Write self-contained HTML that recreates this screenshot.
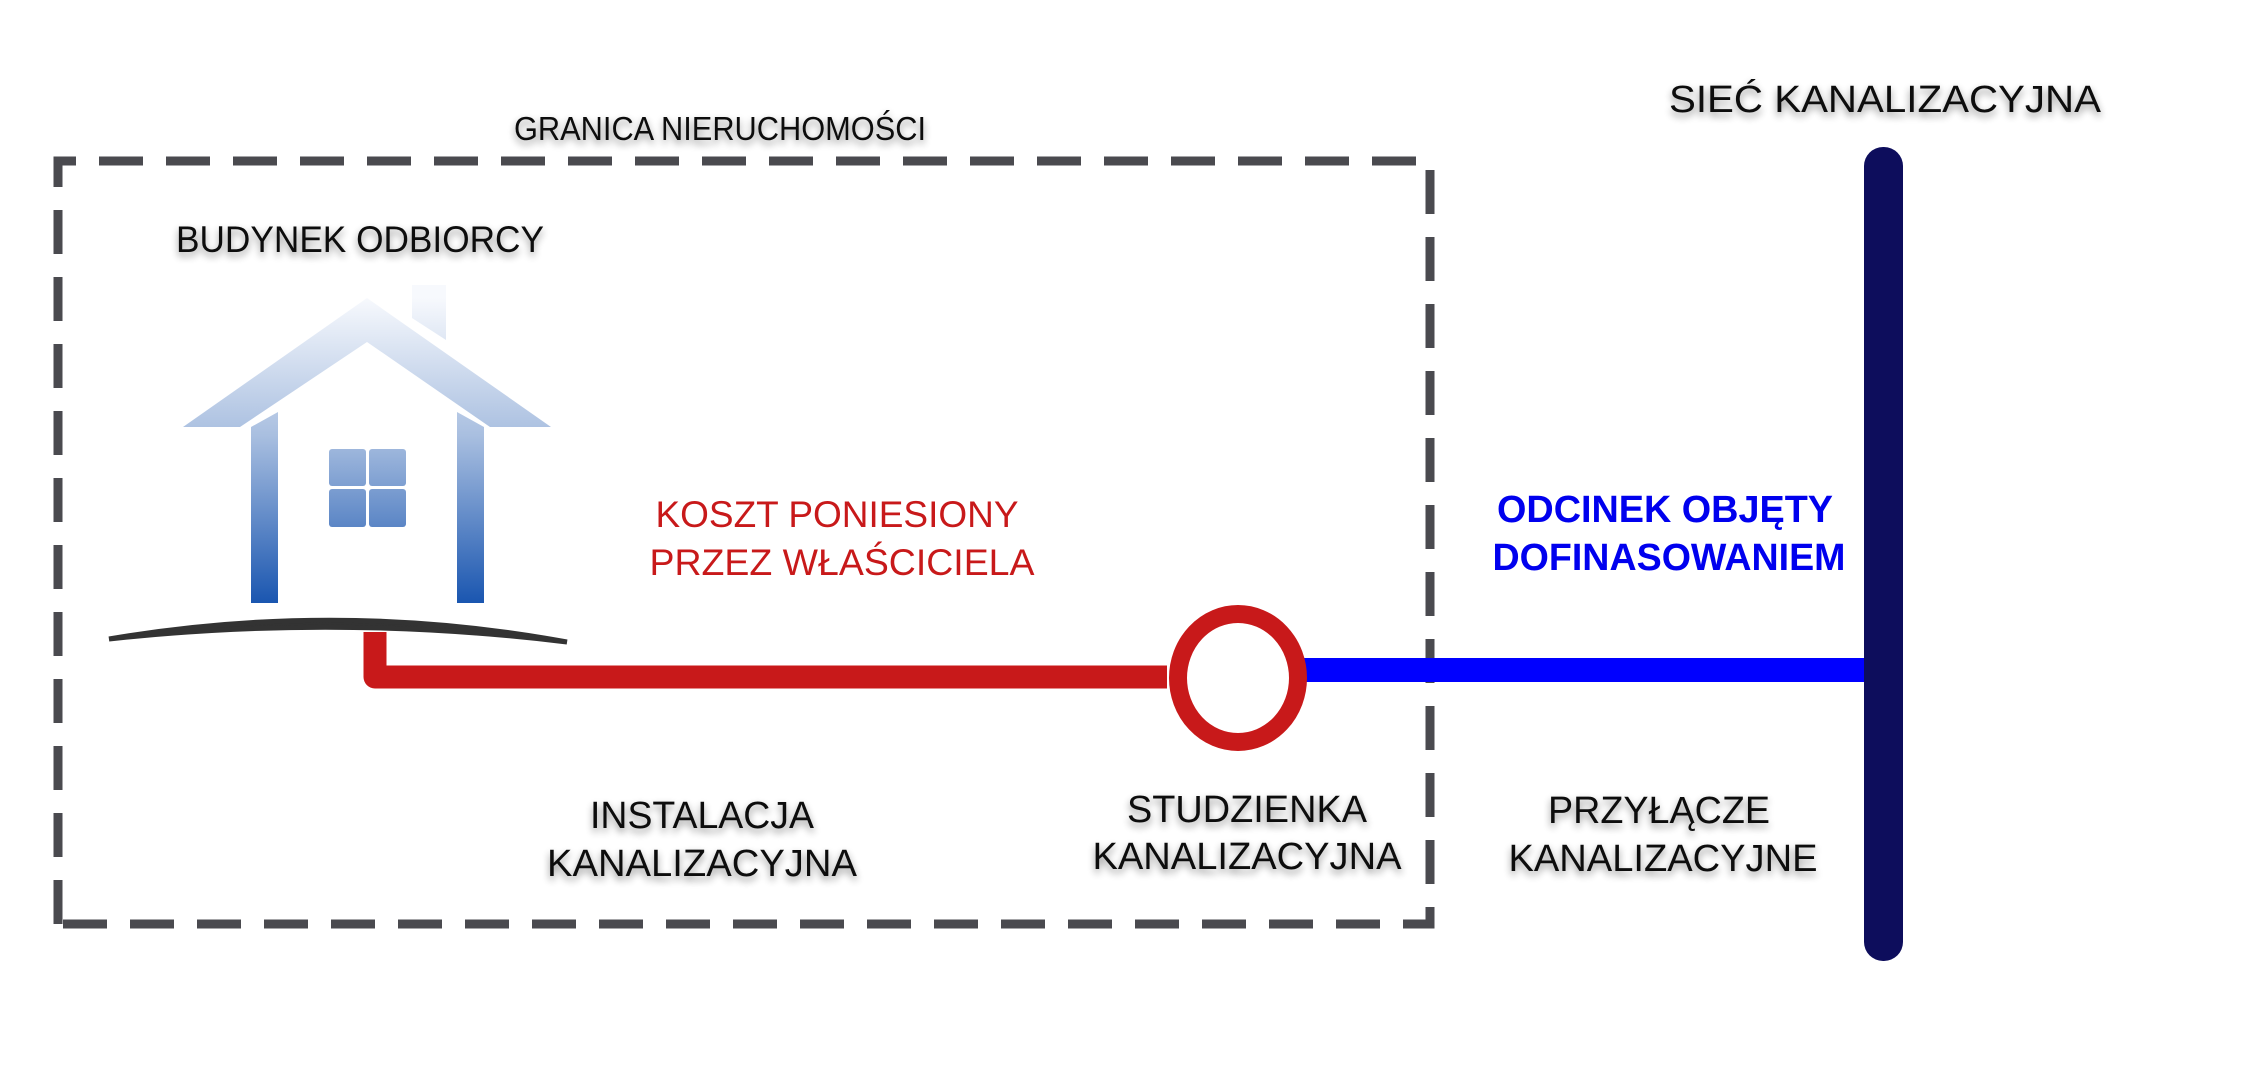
<!DOCTYPE html>
<html><head><meta charset="utf-8"><style>html,body{margin:0;padding:0;background:#fff}svg{display:block}</style></head>
<body>
<svg width="2246" height="1068" viewBox="0 0 2246 1068" xmlns="http://www.w3.org/2000/svg">
<defs>
<linearGradient id="hg" x1="0" y1="298" x2="0" y2="603" gradientUnits="userSpaceOnUse">
<stop offset="0" stop-color="#f7f9fd"/><stop offset="0.45" stop-color="#a9bfe0"/><stop offset="1" stop-color="#1a56b0"/>
</linearGradient>
<filter id="sh" x="-10%" y="-40%" width="120%" height="180%">
<feGaussianBlur in="SourceAlpha" stdDeviation="4"/><feOffset dy="4"/>
<feComponentTransfer><feFuncA type="linear" slope="0.45"/></feComponentTransfer>
<feMerge><feMergeNode/><feMergeNode in="SourceGraphic"/></feMerge>
</filter>
</defs>
<rect width="2246" height="1068" fill="#fff"/>
<path d="M58 924 L58 161 L1430 161 L1430 924 Z" fill="none" stroke="#4a4a4f" stroke-width="9" stroke-dasharray="44 23"/>
<g fill="url(#hg)">
<polygon points="367,298 551,427 490,427 367,342 240,427 183,427"/>
<polygon points="412,285 446,285 446,340 412,318"/>
<polygon points="251,427 278,412 278,603 251,603"/>
<polygon points="457,412 484,427 484,603 457,603"/>
<rect x="329" y="449" width="37" height="37" rx="3"/>
<rect x="369" y="449" width="37" height="37" rx="3"/>
<rect x="329" y="489" width="37" height="38" rx="3"/>
<rect x="369" y="489" width="37" height="38" rx="3"/>
</g>
<path d="M375 632 L375 677 L1167 677" fill="none" stroke="#c8191a" stroke-width="23" stroke-linejoin="round"/>
<path d="M109 639 Q338 600 567 642 Q338 614 109 639 Z" fill="#333" stroke="#333" stroke-width="5"/>
<rect x="1300" y="658" width="566" height="24" fill="#0000ff"/>
<ellipse cx="1238" cy="678" rx="60" ry="64" fill="#fff" stroke="#c8191a" stroke-width="18"/>
<rect x="1864" y="147" width="39" height="814" rx="19" fill="#0d0d5c"/>
<g font-family="Liberation Sans, sans-serif" fill="#111" text-anchor="middle" filter="url(#sh)">
<text x="720" y="140" font-size="33" textLength="412" lengthAdjust="spacingAndGlyphs">GRANICA NIERUCHOMOŚCI</text>
<text x="360" y="252" font-size="37" textLength="368" lengthAdjust="spacingAndGlyphs">BUDYNEK ODBIORCY</text>
<text x="1885" y="112" font-size="38" textLength="432" lengthAdjust="spacingAndGlyphs">SIEĆ KANALIZACYJNA</text>
<text x="702" y="828" font-size="38" textLength="224" lengthAdjust="spacingAndGlyphs">INSTALACJA</text>
<text x="702" y="876" font-size="38" textLength="310" lengthAdjust="spacingAndGlyphs">KANALIZACYJNA</text>
<text x="1247" y="822" font-size="38" textLength="240" lengthAdjust="spacingAndGlyphs">STUDZIENKA</text>
<text x="1247" y="869" font-size="38" textLength="309" lengthAdjust="spacingAndGlyphs">KANALIZACYJNA</text>
<text x="1659" y="823" font-size="38" textLength="222" lengthAdjust="spacingAndGlyphs">PRZYŁĄCZE</text>
<text x="1663" y="871" font-size="38" textLength="309" lengthAdjust="spacingAndGlyphs">KANALIZACYJNE</text>
</g>
<g font-family="Liberation Sans, sans-serif" fill="#c8191a" text-anchor="middle" font-size="37">
<text x="837" y="527" textLength="363" lengthAdjust="spacingAndGlyphs">KOSZT PONIESIONY</text>
<text x="842" y="575" textLength="385" lengthAdjust="spacingAndGlyphs">PRZEZ WŁAŚCICIELA</text>
</g>
<g font-family="Liberation Sans, sans-serif" fill="#0000ee" text-anchor="middle" font-size="38" font-weight="bold">
<text x="1665" y="522" textLength="336" lengthAdjust="spacingAndGlyphs">ODCINEK OBJĘTY</text>
<text x="1669" y="570" textLength="353" lengthAdjust="spacingAndGlyphs">DOFINASOWANIEM</text>
</g>
</svg>
</body></html>
